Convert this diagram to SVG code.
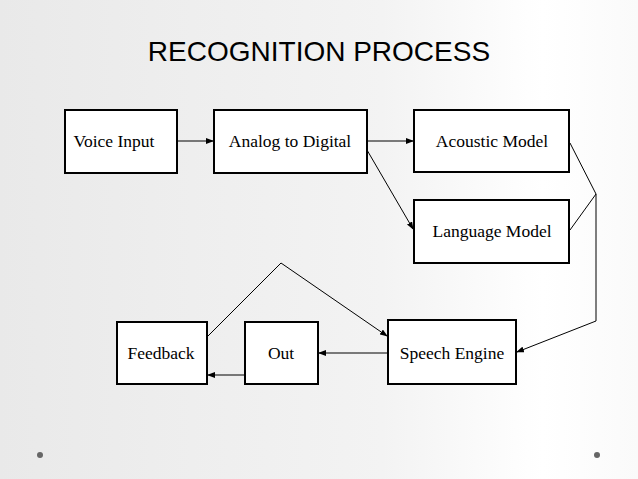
<svg xmlns="http://www.w3.org/2000/svg" width="638" height="479" viewBox="0 0 638 479">
<defs>
<linearGradient id="bg" x1="0" y1="0" x2="1" y2="0">
<stop offset="0" stop-color="#e9e9e9"/><stop offset="0.6" stop-color="#f3f3f3"/><stop offset="0.85" stop-color="#ffffff"/><stop offset="1" stop-color="#fafafa"/>
</linearGradient>
<marker id="a" markerWidth="8" markerHeight="6" refX="7" refY="3" orient="auto" markerUnits="userSpaceOnUse"><path d="M0,0 L8,3 L0,6 Z" fill="#000"/></marker>
<style>
.b{fill:#fff;stroke:#000;stroke-width:2}
.t{font-family:"Liberation Serif",serif;font-size:17.5px;text-anchor:middle;fill:#000}
.c{fill:none;stroke:#000;stroke-width:1}
</style>
</defs>
<rect width="638" height="479" fill="url(#bg)"/>
<text x="319" y="61" font-family="Liberation Sans, sans-serif" font-size="28" text-anchor="middle" fill="#000">RECOGNITION PROCESS</text>
<g id="voice"><rect class="b" x="65" y="110" width="112" height="63"/><text class="t" x="114" y="147">Voice Input</text></g>
<g id="analog"><rect class="b" x="214" y="110" width="153" height="63"/><text class="t" x="290" y="147">Analog to Digital</text></g>
<g id="acoustic"><rect class="b" x="414" y="110" width="155" height="62"/><text class="t" x="492" y="147">Acoustic Model</text></g>
<g id="language"><rect class="b" x="414" y="200" width="155" height="63"/><text class="t" x="492" y="237">Language Model</text></g>
<g id="feedback"><rect class="b" x="117" y="322" width="90" height="62"/><text class="t" x="161" y="359">Feedback</text></g>
<g id="out"><rect class="b" x="245" y="322" width="73" height="62"/><text class="t" x="281" y="359">Out</text></g>
<g id="speech"><rect class="b" x="388" y="320" width="128" height="64"/><text class="t" x="452" y="359">Speech Engine</text></g>
<g id="connectors">
<line class="c" x1="177" y1="141" x2="213" y2="141" marker-end="url(#a)"/>
<line class="c" x1="367" y1="141" x2="413" y2="141" marker-end="url(#a)"/>
<line class="c" x1="367" y1="150" x2="413" y2="229" marker-end="url(#a)"/>
<polyline class="c" points="570,143 596,194 570,230"/>
<polyline class="c" points="596,194 596,321 517,352" marker-end="url(#a)"/>
<polyline class="c" points="208,336 281,263 387,336" marker-end="url(#a)"/>
<line class="c" x1="388" y1="353" x2="319" y2="353" marker-end="url(#a)"/>
<line class="c" x1="245" y1="375" x2="208" y2="375" marker-end="url(#a)"/>
</g>
<circle cx="40" cy="455" r="3" fill="#666"/>
<circle cx="597" cy="455" r="3" fill="#666"/>
</svg>
